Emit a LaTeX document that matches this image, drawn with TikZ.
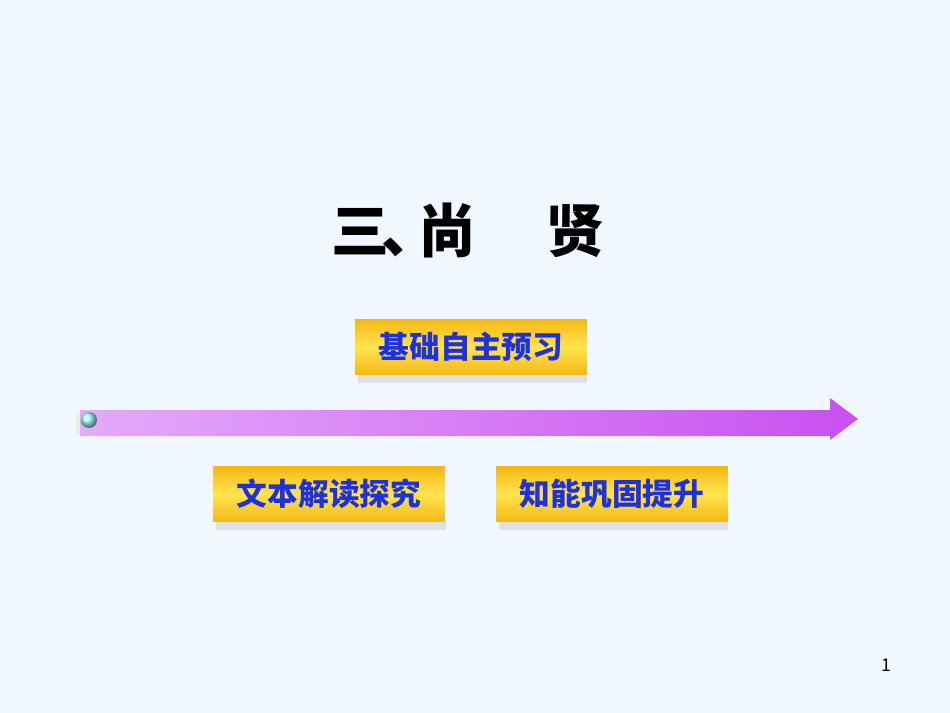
\documentclass[tikz,border=0pt]{standalone}
\usepackage{fontspec}
\newfontfamily\cjk{Noto Sans CJK SC}
\usetikzlibrary{positioning}
\definecolor{bgblue}{RGB}{240,247,255}
\definecolor{btnblue}{RGB}{30,50,220}
\definecolor{gold}{RGB}{245,185,20}
\definecolor{lightgold}{RGB}{255,228,80}
\definecolor{violetA}{RGB}{228,170,250}
\definecolor{violetB}{RGB}{200,80,240}

\tikzset{
  button/.style={minimum width=4.64cm, minimum height=1.1cm, inner sep=0pt,
    top color=gold, bottom color=gold, middle color=lightgold,
    font=\cjk\bfseries\fontsize{17.5}{17.5}\selectfont, text=btnblue},
  buttonfoot/.style={fill=black!12},
}

\begin{document}
\begin{tikzpicture}[x=0.02cm, y=-0.02cm]

	% background
	\fill[bgblue] (0,0) rectangle (950,713);

	% title
	\node (title) at (468,230) {\cjk\bfseries\fontsize{33}{33}\selectfont 三\hspace{-0.15em}、\hspace{-0.35em}尚\hspace{1.2em}贤};

	% arrow
	\fill[black!8, rounded corners=2pt] (76,414) rectangle (832,434);
	\shade[left color=violetA, right color=violetB]
	(80,410) -- (830,410) -- (830,398) -- (858,419) -- (830,440) -- (830,436) -- (80,436) -- cycle;
	\shade[ball color=cyan!35] (89,420) circle (8);

	% buttons
	\fill[buttonfoot] (358,372) rectangle (587,383);
	\node[button] (preview) at (471,347) {基础自主预习};
	\fill[buttonfoot] (216,519) rectangle (446,530);
	\node[button] (explore) at (329,494) {文本解读探究};
	\fill[buttonfoot] (499,519) rectangle (728,530);
	\node[button] (improve) at (612,494) {知能巩固提升};

	% page number
	\node (pagenum) at (886,665) {\cjk 1};

\end{tikzpicture}
\end{document}
